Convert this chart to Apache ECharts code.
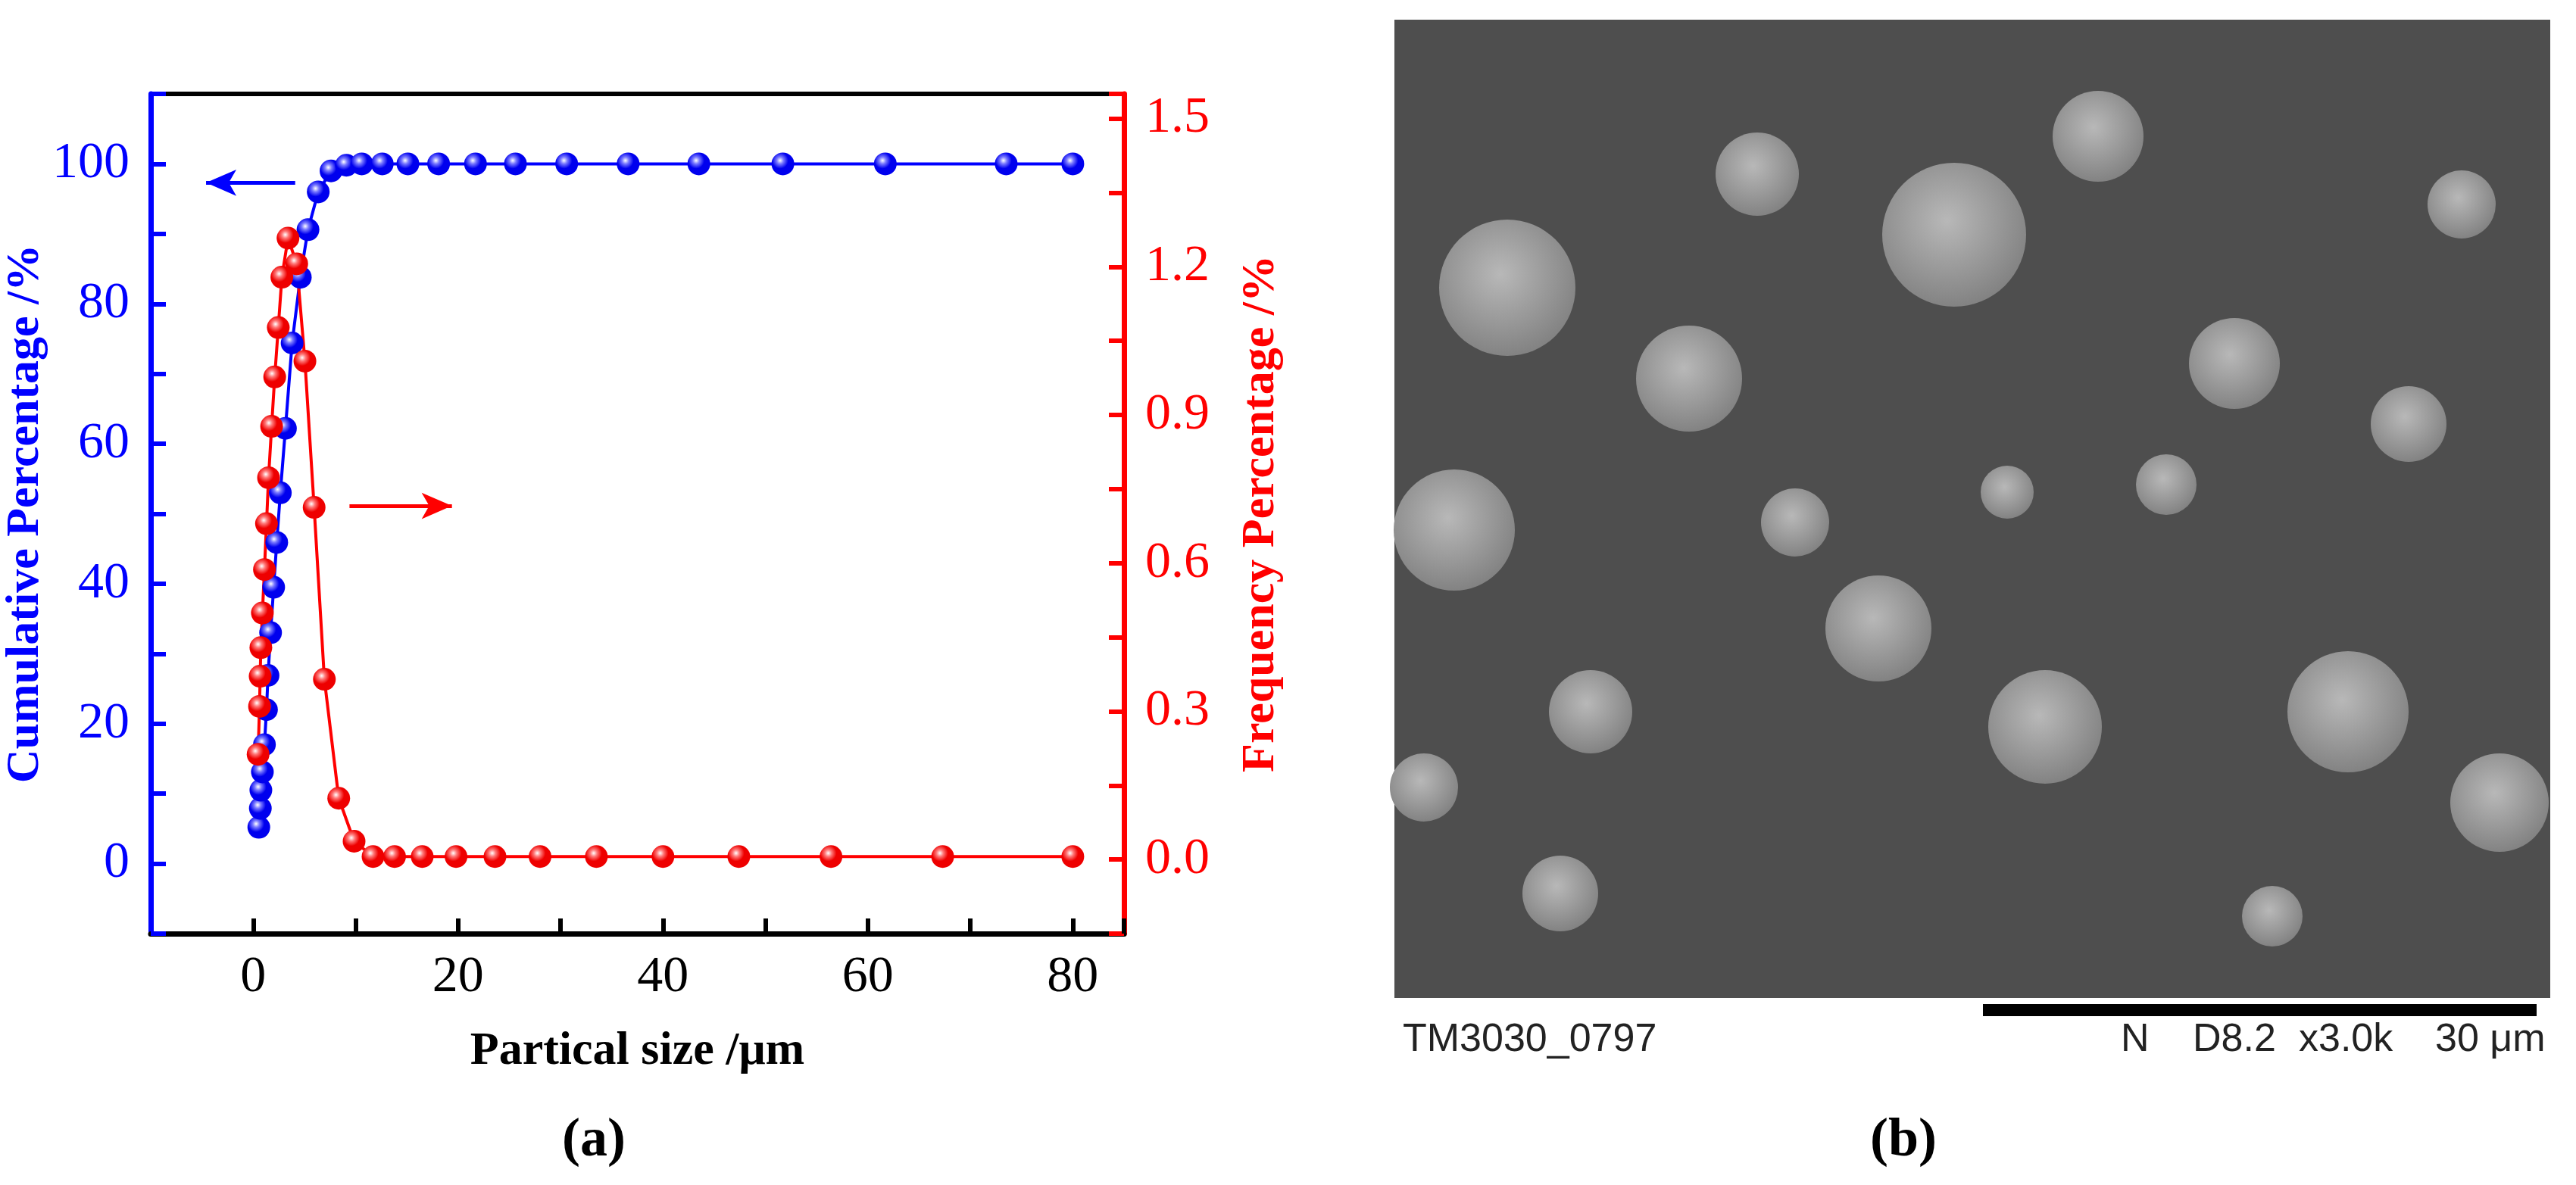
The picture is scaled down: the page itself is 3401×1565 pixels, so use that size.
<!DOCTYPE html>
<html><head><meta charset="utf-8">
<script src="https://cdn.jsdelivr.net/npm/echarts@6/dist/echarts.min.js"></script>
<style>html,body{margin:0;padding:0;background:#fff}#c{width:3401px;height:1565px}</style>
</head><body><div id="c"></div>
<script>
const cumX = [0.55,0.7,0.75,0.9,1.1,1.3,1.45,1.7,2.0,2.3,2.65,3.15,3.8,4.6,5.35,6.35,7.6,9.1,10.6,12.6,15.1,18.1,21.7,25.6,30.6,36.6,43.5,51.7,61.7,73.5,80];
const cumY = [5.2,7.9,10.5,13.1,17,22,26.9,33,39.5,45.9,53,62.2,74.4,83.8,90.6,96,99,99.8,100,100,100,100,100,100,100,100,100,100,100,100,100];
const freqX = [0.48,0.62,0.68,0.75,0.9,1.1,1.3,1.5,1.8,2.1,2.45,2.8,3.4,4.25,5.05,5.95,6.95,8.35,9.85,11.7,13.8,16.5,19.8,23.6,28,33.5,40,47.4,56.4,67.3,80];
const freqY = [0.213,0.31,0.371,0.429,0.499,0.587,0.68,0.773,0.877,0.977,1.077,1.179,1.258,1.206,1.009,0.713,0.365,0.124,0.037,0.006,0.006,0.006,0.006,0.006,0.006,0.006,0.006,0.006,0.006,0.006,0.006];
const xTicks = [0,20,40,60,80];
const leftTicks = [0,20,40,60,80,100];
const rightTicks = [0.0,0.3,0.6,0.9,1.2,1.5];

const ser = (xs, ys) => xs.map((x,i)=>[x,ys[i]]);
const ball = (c) => ({type:'radial',x:0.38,y:0.35,r:0.6,colorStops:[{offset:0,color:'#fff'},{offset:0.25,color:c[0]},{offset:0.6,color:c[1]},{offset:1,color:c[1]}]});
const F = 'Liberation Serif, Times New Roman, serif';

// SEM-like decorative particles (illustration only)
const particles = [[1990,380,90],[2230,500,70],[2580,310,95],[2320,230,55],[2950,480,60],[3250,270,45],[1920,700,80],[2480,830,70],[2700,960,75],[3100,940,80],[2100,940,55],[3300,1060,65],[2860,640,40],[2060,1180,50],[3180,560,50],[2770,180,60],[2370,690,45],[3000,1210,40],[2650,650,35],[1880,1040,45]];
const semGraphics = [{type:'rect',shape:{x:1841,y:26,width:1526,height:1292},style:{fill:'#4e4e4e'}}]
 .concat(particles.map(p=>({type:'circle',shape:{cx:p[0],cy:p[1],r:p[2]},style:{fill:{type:'radial',x:0.45,y:0.4,r:0.7,colorStops:[{offset:0,color:'#b8b8b8'},{offset:1,color:'#7a7a7a'}]}}})))
 .concat([
  {type:'rect',shape:{x:2618,y:1326,width:731,height:16},style:{fill:'#000'}},
  {type:'text',left:1852,top:1348,style:{text:'TM3030_0797',font:'52px Liberation Sans, Arial',fill:'#222'}},
  {type:'text',left:2800,top:1348,style:{text:'N',font:'52px Liberation Sans, Arial',fill:'#222'}},
  {type:'text',left:2895,top:1348,style:{text:'D8.2',font:'52px Liberation Sans, Arial',fill:'#222'}},
  {type:'text',left:3035,top:1348,style:{text:'x3.0k',font:'52px Liberation Sans, Arial',fill:'#222'}},
  {type:'text',left:3215,top:1348,style:{text:'30 μm',font:'52px Liberation Sans, Arial',fill:'#222'}},
  {type:'text',x:784,y:1507,style:{text:'(a)',font:'bold 72px '+F,fill:'#000',align:'center',verticalAlign:'middle'}},
  {type:'text',x:2513,y:1507,style:{text:'(b)',font:'bold 72px '+F,fill:'#000',align:'center',verticalAlign:'middle'}},
  {type:'line',shape:{x1:199,y1:124,x2:1484,y2:124},style:{stroke:'#000',lineWidth:6}}
 ]);

const chart = echarts.init(document.getElementById('c'));
chart.setOption({
  animation:false,
  grid:{left:199,right:1917,top:124,bottom:332},
  xAxis:{type:'value',min:-10,max:85,interval:10,
    name:'Partical size /μm',nameLocation:'middle',nameGap:125,
    nameTextStyle:{fontFamily:F,fontWeight:'bold',fontSize:62,color:'#000'},
    axisLine:{onZero:false,lineStyle:{color:'#000',width:7}},
    axisTick:{inside:true,length:20,lineStyle:{color:'#000',width:6}},
    axisLabel:{fontFamily:F,fontSize:68,color:'#000',margin:24,showMinLabel:false,
      formatter:v=>xTicks.includes(v)?String(v):''},
    splitLine:{show:false}},
  yAxis:[
   {type:'value',min:-10,max:110,interval:10,position:'left',
    name:'Cumulative Percentage /%',nameLocation:'middle',nameGap:118,
    nameTextStyle:{fontFamily:F,fontWeight:'bold',fontSize:62,color:'#0000ff'},
    axisLine:{show:true,onZero:false,lineStyle:{color:'#0000ff',width:7}},
    axisTick:{inside:true,length:20,lineStyle:{color:'#0000ff',width:6}},
    axisLabel:{fontFamily:F,fontSize:68,color:'#0000ff',margin:28,
      formatter:v=>leftTicks.includes(v)?String(v):''},
    splitLine:{show:false}},
   {type:'value',min:-0.15,max:1.55,interval:0.15,position:'right',
    name:'Frequency Percentage /%',nameLocation:'middle',nameGap:150,nameRotate:90,
    nameTextStyle:{fontFamily:F,fontWeight:'bold',fontSize:62,color:'#ff0000'},
    axisLine:{show:true,onZero:false,lineStyle:{color:'#ff0000',width:7}},
    axisTick:{inside:true,length:20,lineStyle:{color:'#ff0000',width:6}},
    axisLabel:{fontFamily:F,fontSize:68,color:'#ff0000',margin:28,
      formatter:v=>rightTicks.some(t=>Math.abs(t-v)<1e-6)?v.toFixed(1):''},
    splitLine:{show:false}}
  ],
  series:[
   {type:'line',yAxisIndex:0,data:ser(cumX,cumY),symbol:'circle',symbolSize:30,
    lineStyle:{color:'#0000ff',width:4},itemStyle:{color:ball(['#7a7aff','#0000ee']),borderWidth:0},
    markLine:{silent:true,symbol:['none','arrow'],symbolSize:[26,40],label:{show:false},
      lineStyle:{color:'#0000ff',width:5,type:'solid'},
      data:[[{coord:[4.1,97.3]},{coord:[-4.6,97.3]}]]}},
   {type:'line',yAxisIndex:1,data:ser(freqX,freqY),symbol:'circle',symbolSize:30,
    lineStyle:{color:'#ff0000',width:4},itemStyle:{color:ball(['#ff7a7a','#ee0000']),borderWidth:0},
    markLine:{silent:true,symbol:['none','arrow'],symbolSize:[26,40],label:{show:false},
      lineStyle:{color:'#ff0000',width:5,type:'solid'},
      data:[[{coord:[9.4,0.716]},{coord:[19.4,0.716]}]]}}
  ],
  graphic:semGraphics
});
</script></body></html>
